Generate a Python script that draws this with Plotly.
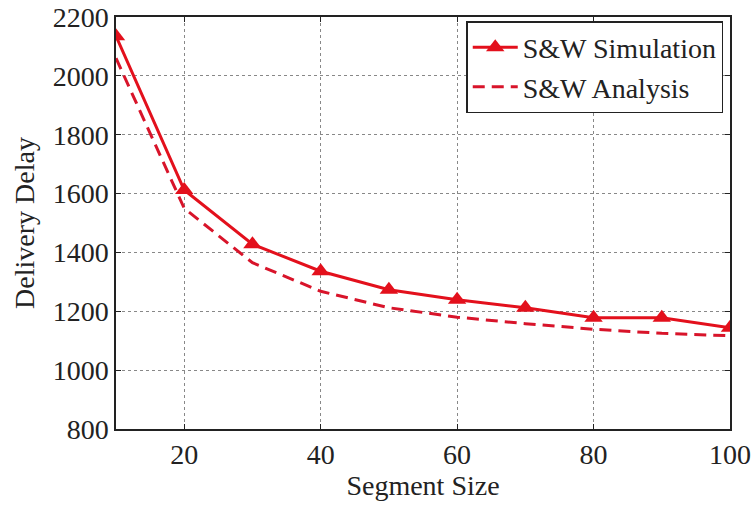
import plotly.graph_objects as go

segment_size = [10, 20, 30, 40, 50, 60, 70, 80, 90, 100]
sim_delay = [2135, 1612, 1428, 1336, 1273, 1239, 1212, 1178, 1178, 1144]
ana_delay = [2060, 1550, 1365, 1268, 1212, 1180, 1158, 1139, 1125, 1117]

x_ticks = [20, 40, 60, 80, 100]
y_ticks = [800, 1000, 1200, 1400, 1600, 1800, 2000, 2200]

RED = "#e3101c"
RED_DASH = "#d8142a"
FONT = "Liberation Serif"
FS = 28

fig = go.Figure()
fig.add_trace(go.Scatter(
    x=segment_size, y=sim_delay, name="S&W Simulation",
    mode="lines+markers",
    line=dict(color=RED, width=3),
    marker=dict(symbol="triangle-up", size=16, color=RED),
))
fig.add_trace(go.Scatter(
    x=segment_size, y=ana_delay, name="S&W Analysis",
    mode="lines",
    line=dict(color=RED_DASH, width=3, dash="12px,7px"),
))

axis_common = dict(
    showline=True, linecolor="#222", linewidth=1.5, mirror="allticks",
    ticks="inside", ticklen=5, tickcolor="#222",
    showgrid=True, gridcolor="#888", griddash="dot", gridwidth=1,
    zeroline=False,
    tickfont=dict(family=FONT, size=FS, color="#222"),
)

fig.update_xaxes(
    range=[10, 100], tickvals=x_ticks,
    title=dict(text="Segment Size", font=dict(family=FONT, size=FS, color="#222"), standoff=6),
    **axis_common,
)
fig.update_yaxes(
    range=[800, 2200], tickvals=y_ticks,
    title=dict(text="Delivery Delay", font=dict(family=FONT, size=FS, color="#222"), standoff=10),
    **axis_common,
)

fig.update_layout(
    width=756, height=513,
    margin=dict(l=116, r=26, t=17, b=84, autoexpand=False),
    paper_bgcolor="white", plot_bgcolor="white",
    font=dict(family=FONT, size=FS, color="#222"),
    legend=dict(
        x=0.989, y=0.99, xanchor="right", yanchor="top",
        bgcolor="white", bordercolor="#222", borderwidth=1.5,
        font=dict(family=FONT, size=FS, color="#222"),
        tracegroupgap=0, itemwidth=45,
    ),
    showlegend=True,
)

fig.write_html("out.html", config={"displayModeBar": False},
               post_script="document.body.style.margin='0px';")
